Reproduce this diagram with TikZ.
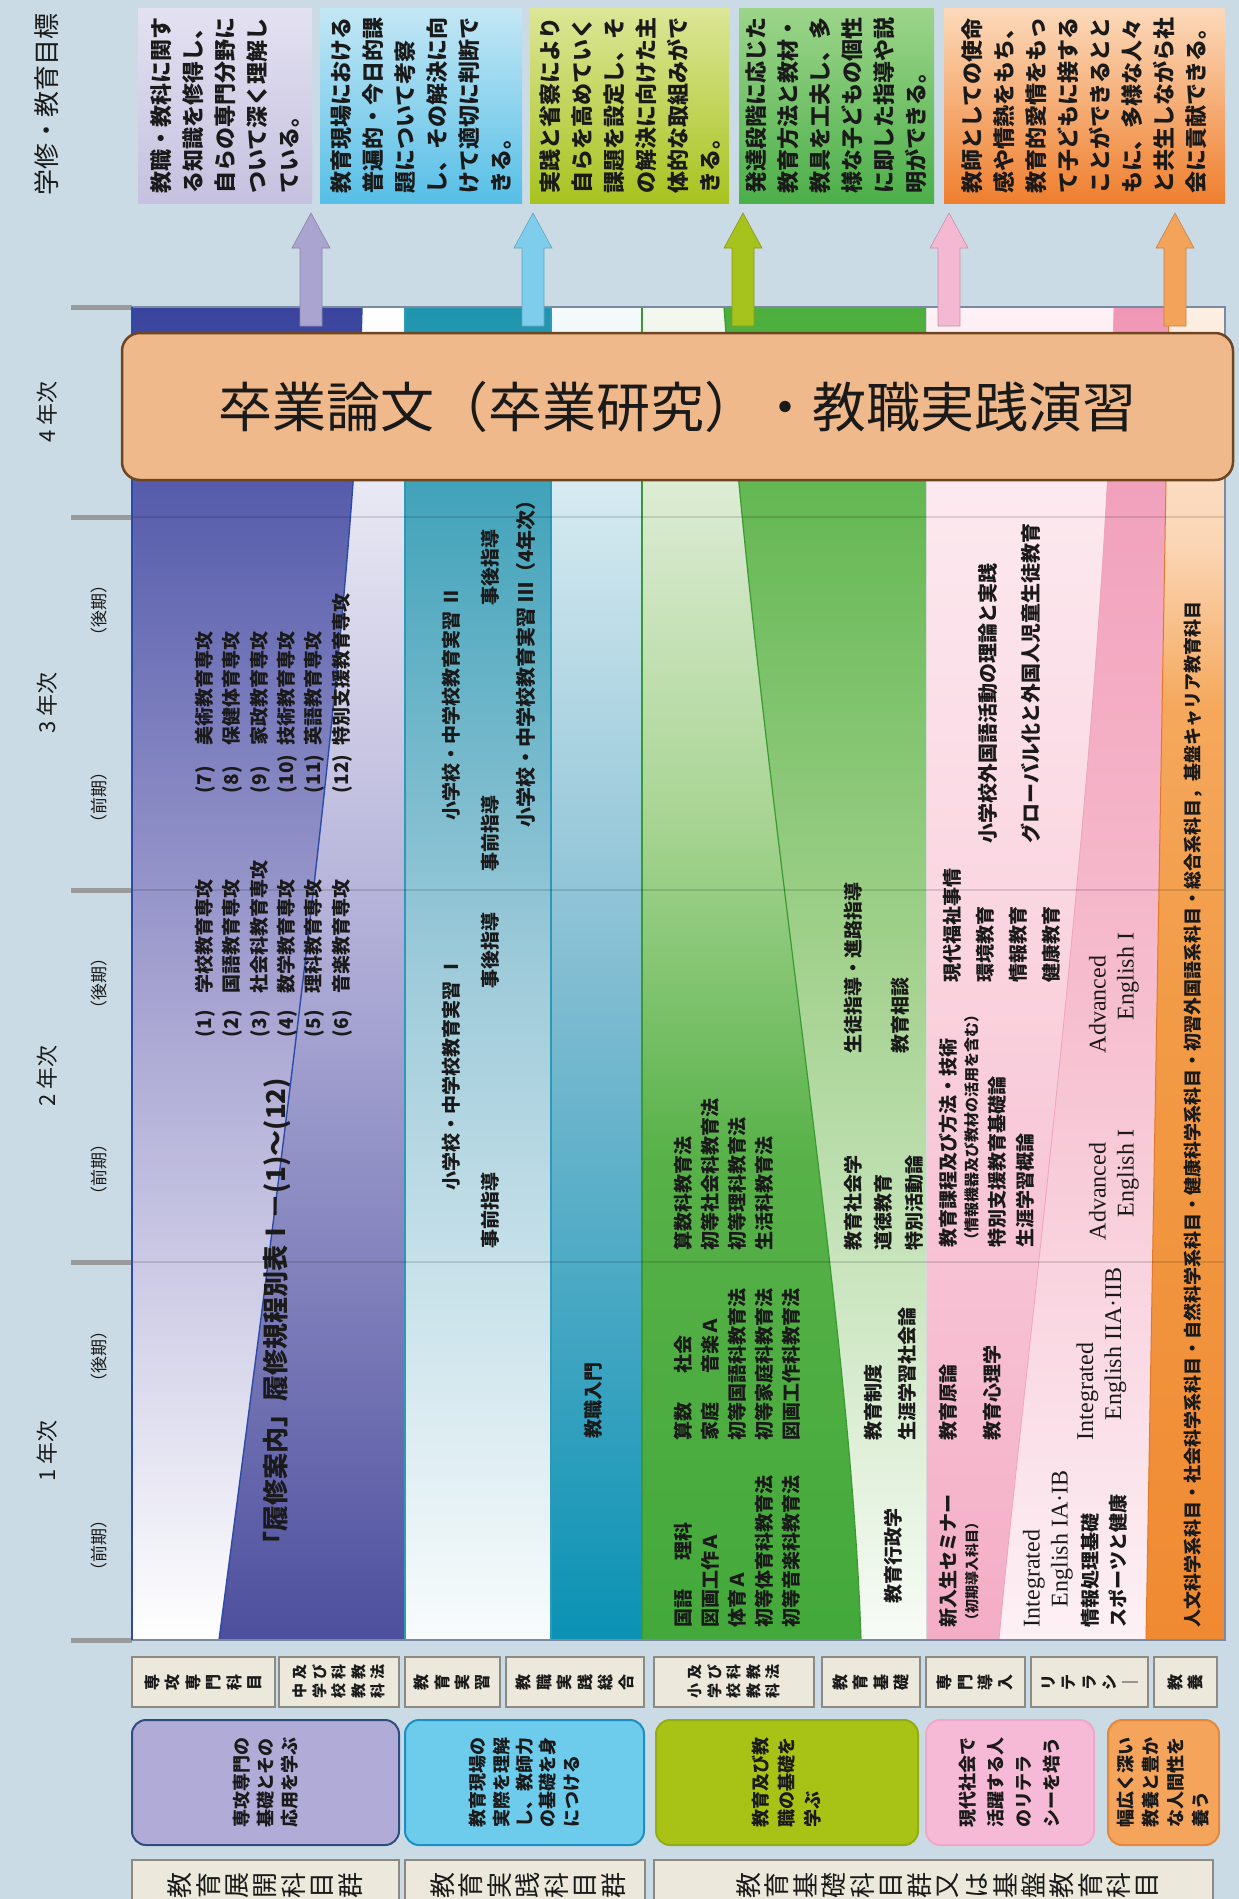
\documentclass[tikz,border=0pt]{standalone}
\usepackage{fontspec}
\setmainfont{Noto Sans CJK JP}
\newfontfamily\engserif{Liberation Serif}
\usetikzlibrary{positioning}

\definecolor{bgc}{HTML}{CBDBE5}
\definecolor{txtc}{HTML}{1A1A1A}
\definecolor{tickc}{HTML}{9A9A9A}
\definecolor{gA1}{HTML}{E3E1F1}\definecolor{gA2}{HTML}{C5C1DF}
\definecolor{gB1}{HTML}{C4E7F5}\definecolor{gB2}{HTML}{56BFE7}
\definecolor{gC1}{HTML}{DCE697}\definecolor{gC2}{HTML}{A8C31F}
\definecolor{gD1}{HTML}{9CD58A}\definecolor{gD2}{HTML}{4CAF49}
\definecolor{gE1}{HTML}{FCDABB}\definecolor{gE2}{HTML}{EF7F2E}
\definecolor{arrA}{HTML}{A9A5D0}\definecolor{arrB}{HTML}{7ECDEC}
\definecolor{arrC}{HTML}{A6C21C}\definecolor{arrD}{HTML}{F5B8D3}
\definecolor{arrE}{HTML}{F4A35A}
\definecolor{purA}{HTML}{3A449E}\definecolor{purB}{HTML}{A3A0D0}
\definecolor{purC}{HTML}{ACAAD5}\definecolor{purD}{HTML}{4D4F9E}
\definecolor{purLine}{HTML}{2D4AA8}
\definecolor{tealA}{HTML}{1F94AE}\definecolor{tealB}{HTML}{9FCBDA}
\definecolor{tealC}{HTML}{0A92B4}\definecolor{tealD}{HTML}{82BDD2}
\definecolor{tealLine}{HTML}{2A9AB8}
\definecolor{grnA}{HTML}{43A93A}\definecolor{grnB}{HTML}{57B148}
\definecolor{grnC}{HTML}{A9D594}\definecolor{grnD}{HTML}{DCEBD3}
\definecolor{grnE}{HTML}{F4F8F0}\definecolor{grnF}{HTML}{4CAE3C}
\definecolor{grnG}{HTML}{A4D28F}\definecolor{grnLine}{HTML}{3A9A32}
\definecolor{pnkA}{HTML}{FDF1F5}\definecolor{pnkB}{HTML}{FAD3DF}
\definecolor{pnkC}{HTML}{F4ADC6}\definecolor{pnkD}{HTML}{F097B5}
\definecolor{pnkE}{HTML}{F6BCCE}\definecolor{pnkLine}{HTML}{EFA3BE}
\definecolor{oraA}{HTML}{F08A32}\definecolor{oraB}{HTML}{F29B47}
\definecolor{oraC}{HTML}{F5A85C}\definecolor{oraD}{HTML}{FBD5B4}
\definecolor{oraE}{HTML}{FDEFE4}\definecolor{oraLine}{HTML}{E07A2A}
\definecolor{frameC}{HTML}{7A8AA0}
\definecolor{thesisF}{HTML}{EFB98B}\definecolor{thesisD}{HTML}{6E4522}
\definecolor{pAf}{HTML}{B1ABD7}\definecolor{pAd}{HTML}{2F4E80}
\definecolor{pBf}{HTML}{6DCBEC}\definecolor{pBd}{HTML}{1C8FC5}
\definecolor{pCf}{HTML}{A8C316}\definecolor{pCd}{HTML}{93AE14}
\definecolor{pDf}{HTML}{F7BAD6}\definecolor{pDd}{HTML}{EFA8C8}
\definecolor{pEf}{HTML}{F5A45B}\definecolor{pEd}{HTML}{E3883D}
\definecolor{boxfill}{HTML}{ECE8DB}\definecolor{boxline}{HTML}{8B8B84}

\pgfdeclareverticalshading{shoshade}{100bp}{color(0bp)=(grnA); color(25bp)=(grnA); color(43bp)=(grnB); color(56bp)=(grnC); color(68bp)=(grnD); color(75bp)=(grnE); color(100bp)=(grnE)}
\pgfdeclareverticalshading{kyoyoshade}{100bp}{color(0bp)=(oraA); color(25bp)=(oraA); color(49bp)=(oraB); color(60bp)=(oraC); color(66bp)=(oraD); color(75bp)=(oraE); color(100bp)=(oraE)}

\newcommand{\fsz}[2]{\fontsize{#1}{#2}\selectfont}
\newcommand{\majno}[2]{\makebox[#1][l]{#2}}
\newlength{\tatestep}
\makeatletter
\newcommand{\tatekaki}[2][20pt]{\vbox{\offinterlineskip\setlength{\tatestep}{#1}\tatek@i#2\@nil}}
\def\tatek@i#1#2\@nil{\hbox to1.1em{\hss\vbox to\tatestep{\vss\hbox{#1}\vss}\hss}\ifx\relax#2\relax\else\tatek@i#2\@nil\fi}
\makeatother

\begin{document}
\begin{tikzpicture}[x=1pt,y=-1pt,
  vtxt/.style={rotate=90,inner sep=0pt,outer sep=0pt,align=left,text=txtc},
  ctxt/.style={vtxt,anchor=west,font=\bfseries\fsz{19}{27}},
  tatetxt/.style={rotate=90,inner sep=0pt,text=txtc},
  subjtxt/.style={tatetxt,font=\bfseries\fsz{16}{16}},
  goalbox/.style={rectangle,inner sep=0pt,minimum height=195pt},
  goaltxt/.style={vtxt,font=\bfseries\fsz{22}{32}},
  grpbox/.style={rectangle,rounded corners=14pt,line width=2pt,inner sep=0pt,minimum height=125pt},
  grptxt/.style={vtxt,font=\bfseries\fsz{18}{#1}},
  subjbox/.style={rectangle,draw=boxline,fill=boxfill,line width=1.6pt,inner sep=0pt,minimum height=50pt},
  titlebox/.style={subjbox,minimum height=60pt},
  tickmark/.style={line width=5pt,draw=tickc},
  gridline/.style={line width=1.5pt,draw=black,opacity=0.12},
  thesisbox/.style={rectangle,rounded corners=18pt,fill=thesisF,draw=thesisD,line width=2.5pt,minimum width=1111pt,minimum height=147pt,inner sep=0pt,font=\fsz{54}{54},text=txtc}]
\useasboundingbox (0,0) rectangle (1239,1899);
\clip (0,0) rectangle (1239,1899);
\fill[bgc] (0,0) rectangle (1239,1899);

% header column
\node[vtxt,font=\fsz{26}{26}] (goalhead) at (47,104) {学修・教育目標};
\foreach \yy/\nn in {412/4,703/3,1076/2,1451/1}
  \node[vtxt,font=\fsz{22}{22}] (year\nn) at (47,\yy) {\nn\ 年次};
\foreach \yy/\sm [count=\i] in {610/後期,797/前期,983/後期,1169/前期,1356/後期,1545/前期}
  \node[vtxt,font=\fsz{17}{17}] (sem\i) at (99,\yy) {（\sm）};
\foreach \yy in {307,517,890,1262,1640}
  \draw[tickmark] (71,\yy) -- (132,\yy);

% goals
\node[goalbox,minimum width=174pt,top color=gA1,bottom color=gA2] (g1) at (225,105.5) {};
\node[goalbox,minimum width=202pt,top color=gB1,bottom color=gB2] (g2) at (421,105.5) {};
\node[goalbox,minimum width=199pt,top color=gC1,bottom color=gC2] (g3) at (629.5,105.5) {};
\node[goalbox,minimum width=195pt,top color=gD1,bottom color=gD2] (g4) at (836.5,105.5) {};
\node[goalbox,minimum width=281pt,top color=gE1,bottom color=gE2] (g5) at (1084.5,105.5) {};
\node[goaltxt] (g1t) at (g1) {教職・教科に関す\\る知識を修得し、\\自らの専門分野に\\ついて深く理解し\\ている。};
\node[goaltxt] (g2t) at (g2) {教育現場における\\普遍的・今日的課\\題について考察\\し、その解決に向\\けて適切に判断で\\きる。};
\node[goaltxt] (g3t) at (g3) {実践と省察により\\自らを高めていく\\課題を設定し、そ\\の解決に向けた主\\体的な取組みがで\\きる。};
\node[goaltxt] (g4t) at (g4) {発達段階に応じた\\教育方法と教材・\\教具を工夫し、多\\様な子どもの個性\\に即した指導や説\\明ができる。};
\node[goaltxt] (g5t) at (g5) {教師としての使命\\感や情熱をもち、\\教育的愛情をもっ\\て子どもに接する\\ことができるとと\\もに、多様な人々\\と共生しながら社\\会に貢献できる。};

% course bands
\path[top color=purA,bottom color=white,middle color=purB] (132,307) -- (362,307) .. controls (355,600) and (290,1100) .. (219,1640) -- (132,1640) -- cycle;
\path[top color=white,bottom color=purD,middle color=purC] (219,1640) .. controls (290,1100) and (355,600) .. (362,307) -- (405,307) -- (405,1640) -- cycle;
\path[top color=tealA,bottom color=white!97!tealA,middle color=tealB] (405,307) rectangle (551,1640);
\path[top color=white!96!tealC,bottom color=tealC,middle color=tealD] (551,307) rectangle (642,1640);
\path[shading=shoshade] (642,307) -- (724,307) .. controls (760,800) and (850,1300) .. (861,1640) -- (642,1640) -- cycle;
\path[top color=grnF,bottom color=white!96!grnF,middle color=grnG] (724,307) .. controls (760,800) and (850,1300) .. (861,1640) -- (926,1640) -- (926,307) -- cycle;
\path[top color=pnkA,bottom color=pnkC,middle color=pnkB] (926,307) -- (1114,307) .. controls (1105,750) and (1020,1400) .. (999,1640) -- (926,1640) -- cycle;
\path[top color=pnkD,bottom color=pnkA,middle color=pnkE] (1114,307) .. controls (1105,750) and (1020,1400) .. (999,1640) -- (1146,1640) -- (1169,307) -- cycle;
\path[shading=kyoyoshade] (1169,307) -- (1225,307) -- (1225,1640) -- (1146,1640) -- cycle;

\draw[line width=1.4pt,draw=purLine] (219,1640) .. controls (290,1100) and (355,600) .. (362,307);
\draw[line width=1.2pt,draw=grnLine] (861,1640) .. controls (850,1300) and (760,800) .. (724,307);
\draw[line width=0.8pt,draw=pnkLine] (999,1640) .. controls (1020,1400) and (1105,750) .. (1114,307);
\draw[line width=1pt,draw=oraLine] (1146,1640) -- (1169,307);
\draw[line width=2pt,draw=tealLine] (405,307) -- (405,1640) (551,307) -- (551,1640);
\draw[line width=1.5pt,draw=grnLine] (642,307) -- (642,1640);
\draw[line width=1pt,draw=white!70!gray] (926,307) -- (926,1640);
\foreach \yy in {517,890,1262}
  \draw[gridline] (132,\yy) -- (1225,\yy);
\draw[line width=1.5pt,draw=frameC] (132,307) rectangle (1225,1640);
\draw[line width=2pt,draw=purLine] (132,307) -- (132,1640);

% arrows to goals
\foreach \ax/\ac in {311/arrA,533/arrB,743/arrC,949/arrD,1175/arrE}
  \filldraw[fill=\ac,draw=\ac!80!black,line width=0.6pt] (\ax-11,326) -- (\ax-11,248) -- (\ax-19,248) -- (\ax,213) -- (\ax+19,248) -- (\ax+11,248) -- (\ax+11,326) -- cycle;

\node[thesisbox] (thesis) at (677.5,406.5) {卒業論文（卒業研究）・教職実践演習};

% purple band texts
\node[vtxt,anchor=west,font=\bfseries\fsz{26}{26}] (rishu) at (277,1557) {「履修案内」履修規程別表Ⅰ－(1)～(12)};
\node[vtxt,anchor=west,font=\bfseries\fsz{19}{27.4}] (major1) at (273.5,1037) {\majno{44pt}{(1)}学校教育専攻\\\majno{44pt}{(2)}国語教育専攻\\\majno{44pt}{(3)}社会科教育専攻\\\majno{44pt}{(4)}数学教育専攻\\\majno{44pt}{(5)}理科教育専攻\\\majno{44pt}{(6)}音楽教育専攻};
\node[vtxt,anchor=west,font=\bfseries\fsz{19}{27.4}] (major2) at (273.5,793) {\majno{48pt}{(7)}美術教育専攻\\\majno{48pt}{(8)}保健体育専攻\\\majno{48pt}{(9)}家政教育専攻\\\majno{48pt}{(10)}技術教育専攻\\\majno{48pt}{(11)}英語教育専攻\\\majno{48pt}{(12)}特別支援教育専攻};

% practice band texts
\node[ctxt] (jisshu1) at (451,1190) {小学校・中学校教育実習 Ⅰ};
\node[ctxt,anchor=center] (mae1) at (490,1210) {事前指導};
\node[ctxt,anchor=center] (ato1) at (490,950) {事後指導};
\node[ctxt] (jisshu2) at (451,820) {小学校・中学校教育実習 Ⅱ};
\node[ctxt,anchor=center] (mae2) at (490,833) {事前指導};
\node[ctxt,anchor=center] (ato2) at (490,567) {事後指導};
\node[ctxt,font=\bfseries\fsz{20}{20}] (jisshu3) at (526,827) {小学校・中学校教育実習 Ⅲ（4年次）};
\node[ctxt,anchor=center] (nyumon) at (593,1400) {教職入門};

% green band texts
\node[ctxt] (shoA) at (737.5,1627) {\majno{67pt}{国語}理科\\図画工作Ａ\\体育Ａ\\初等体育科教育法\\初等音楽科教育法};
\node[ctxt] (shoB) at (737.5,1440) {\majno{67pt}{算数}社会\\\majno{67pt}{家庭}音楽Ａ\\初等国語科教育法\\初等家庭科教育法\\図画工作科教育法};
\node[ctxt] (shoC) at (723.5,1250) {算数科教育法\\初等社会科教育法\\初等理科教育法\\生活科教育法};
\node[ctxt] (kiso1) at (893,1603) {教育行政学};
\node[ctxt,font=\bfseries\fsz{19}{34}] (kiso2) at (890,1440) {教育制度\\生涯学習社会論};
\node[ctxt,font=\bfseries\fsz{19}{30.5}] (kiso3) at (883.5,1250) {教育社会学\\道徳教育\\特別活動論};
\node[ctxt,font=\bfseries\fsz{19}{47}] (kiso4) at (877,1053) {生徒指導・進路指導\\教育相談};

% pink band texts
\node[ctxt] (dounyu1) at (948,1627) {新入生セミナー};
\node[ctxt,font=\bfseries\fsz{14}{14}] (dounyu1s) at (972,1627) {（初期導入科目）};
\node[ctxt,font=\bfseries\fsz{19}{44}] (dounyu2) at (970,1440) {教育原論\\教育心理学};
\node[ctxt] (dounyu3) at (948,1247) {教育課程及び方法・技術};
\node[ctxt,font=\bfseries\fsz{15}{15}] (dounyu3s) at (972,1247) {（情報機器及び教材の活用を含む）};
\node[ctxt,font=\bfseries\fsz{19}{28}] (dounyu4) at (1011,1247) {特別支援教育基礎論\\生涯学習概論};
\node[ctxt,font=\bfseries\fsz{19}{33}] (dounyu5) at (1001.5,982) {現代福祉事情\\環境教育\\情報教育\\健康教育};
\node[ctxt,font=\bfseries\fsz{20}{43}] (dounyu6) at (1009.5,843) {小学校外国語活動の理論と実践\\グローバル化と外国人児童生徒教育};
\node[vtxt,anchor=west,font=\engserif\fsz{24}{28}] (eng1) at (1048,1627) {Integrated\\\hspace*{20pt}English IA·IB};
\node[ctxt,font=\bfseries\fsz{19}{28}] (info1) at (1104,1627) {情報処理基礎\\スポーツと健康};
\node[vtxt,anchor=west,font=\engserif\fsz{24}{28}] (eng2) at (1101.5,1440) {Integrated\\\hspace*{20pt}English IIA·IIB};
\node[vtxt,anchor=west,font=\engserif\fsz{24}{28}] (eng3) at (1114,1240) {Advanced\\\hspace*{23pt}English I};
\node[vtxt,anchor=west,font=\engserif\fsz{24}{28}] (eng4) at (1114,1053) {Advanced\\\hspace*{33pt}English I};

% orange band text
\node[ctxt,font=\bfseries\fsz{18}{18}] (kyoyo) at (1193,1627) {人文科学系科目・社会科学系科目・自然科学系科目・健康科学系科目・初習外国語系科目・総合系科目，基盤キャリア教育科目};

% subject groups
\node[subjbox,minimum width=143pt] (s1) at (203.5,1682) {};
\node[subjbox,minimum width=120pt] (s2) at (339,1682) {};
\node[subjbox,minimum width=95pt] (s3) at (452.5,1682) {};
\node[subjbox,minimum width=138pt] (s4) at (575,1682) {};
\node[subjbox,minimum width=160pt] (s5) at (734,1682) {};
\node[subjbox,minimum width=98pt] (s6) at (871,1682) {};
\node[subjbox,minimum width=99pt] (s7) at (975.5,1682) {};
\node[subjbox,minimum width=117pt] (s8) at (1089.5,1682) {};
\node[subjbox,minimum width=63pt] (s9) at (1185.5,1682) {};
\node[subjtxt] (s1t) at (s1) {\tatekaki[20.5pt]{専攻専門科目}};
\node[subjtxt] (s3t) at (s3) {\tatekaki[20.5pt]{教育実習}};
\node[subjtxt] (s4t) at (s4) {\tatekaki[20.5pt]{教職実践総合}};
\node[subjtxt] (s6t) at (s6) {\tatekaki[20.5pt]{教育基礎}};
\node[subjtxt] (s7t) at (s7) {\tatekaki[20.5pt]{専門導入}};
\node[subjtxt] (s8t) at (s8) {\tatekaki[20.5pt]{リテラシ｜}};
\node[subjtxt] (s9t) at (s9) {\tatekaki[20.5pt]{教養}};
\node[subjtxt,font=\bfseries\fsz{15}{15}] (s2a) at (339,1691) {\tatekaki[19.5pt]{中学校教科}};
\node[subjtxt,font=\bfseries\fsz{15}{15}] (s2b) at (339,1672) {\tatekaki[19.5pt]{及び科教法}};
\node[subjtxt,font=\bfseries\fsz{15}{15}] (s5a) at (734,1691) {\tatekaki[19.5pt]{小学校教科}};
\node[subjtxt,font=\bfseries\fsz{15}{15}] (s5b) at (734,1672) {\tatekaki[19.5pt]{及び科教法}};

\node[grpbox,fill=pAf,draw=pAd,minimum width=267pt] (p1) at (265.5,1782.5) {};
\node[grpbox,fill=pBf,draw=pBd,minimum width=239pt] (p2) at (524.5,1782.5) {};
\node[grpbox,fill=pCf,draw=pCd,minimum width=262pt] (p3) at (787,1782.5) {};
\node[grpbox,fill=pDf,draw=pDd,minimum width=168pt] (p4) at (1010,1782.5) {};
\node[grpbox,fill=pEf,draw=pEd,minimum width=111pt] (p5) at (1163.5,1782.5) {};
\node[grptxt=24] (p1t) at (p1) {専攻専門の\\基礎とその\\応用を学ぶ};
\node[grptxt=23.3] (p2t) at (p2) {教育現場の\\実際を理解\\し、教師力\\の基礎を身\\につける};
\node[grptxt=26] (p3t) at (p3) {教育及び教\\職の基礎を\\学ぶ};
\node[grptxt=28] (p4t) at (p4) {現代社会で\\活躍する人\\のリテラ\\シーを培う};
\node[grptxt=25] (p5t) at (p5) {幅広く深い\\教養と豊か\\な人間性を\\養う};

\node[titlebox,minimum width=267pt] (t1) at (265.5,1890) {};
\node[titlebox,minimum width=240pt] (t2) at (525,1890) {};
\node[titlebox,minimum width=559pt] (t3) at (933.5,1890) {};
\node[tatetxt,font=\fsz{26}{26}] (t1t) at (265.5,1885) {\tatekaki[28.5pt]{教育展開科目群}};
\node[tatetxt,font=\fsz{26}{26}] (t2t) at (528,1885) {\tatekaki[28.5pt]{教育実践科目群}};
\node[tatetxt,font=\fsz{26}{26}] (t3t) at (948,1885) {\tatekaki[28.5pt]{教育基礎科目群又は基盤教育科目}};
\end{tikzpicture}
\end{document}
